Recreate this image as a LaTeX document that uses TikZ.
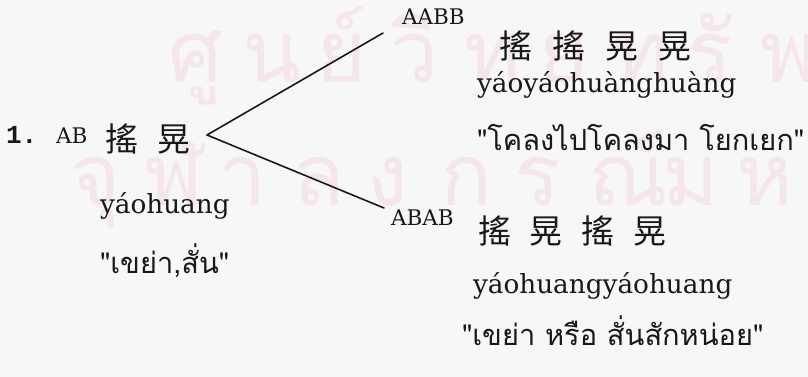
\documentclass[tikz,border=0pt]{standalone}
\usepackage{fontspec}
\setmainfont{DejaVu Serif}
\newfontfamily\thaifont[Script=Thai]{Loma}
\newfontfamily\cjkfont{Noto Sans CJK TC}
\newfontfamily\typefont{Liberation Mono}
\definecolor{paper}{RGB}{247,247,245}
\definecolor{ink}{RGB}{24,24,24}
\definecolor{wmpink}{RGB}{245,230,237}
\begin{document}
\begin{tikzpicture}[x=1pt,y=-1pt,
  every node/.style={inner sep=0pt,outer sep=0pt,anchor=base west,text=ink},
  lab/.style={font=\fontsize{21.5}{24}\selectfont},
  pin/.style={font=\fontsize{26.3}{30}\selectfont},
  han/.style={font=\cjkfont\fontsize{33}{36}\selectfont},
  thai/.style={font=\thaifont\fontsize{29}{32}\selectfont},
  num/.style={font=\typefont\bfseries\fontsize{26}{30}\selectfont},
  wm/.style={font=\thaifont\fontsize{86}{90}\selectfont,text=wmpink},
  branch/.style={draw=ink,line width=1.6pt,line cap=round}]
\useasboundingbox (0,0) rectangle (808,377);
\fill[paper] (0,0) rectangle (808,377);
\begin{scope}
\clip (0,0) rectangle (808,377);
\foreach \g [count=\i] in {ศู,น,ย์,วิ,ท,ย,ท,รั,พ,ย}
  \node[wm] (wma\i) at ({168+74*(\i-1)},83) {\g};
\foreach \g [count=\i] in {จุ,ฬ,า,ล,ง,ก,ร,ณ์,ม,ห,า}
  \node[wm] (wmb\i) at ({70+74*(\i-1)},205) {\g};
\end{scope}
% left entry
\node[num] (n1) at (6,143) {1.};
\node[lab] (ab) at (56,143) {AB};
\node[han] (abhan) at (105,151) {搖\hspace{20pt}晃};
\node[pin] (abpin) at (100,213) {yáohuang};
\node[thai] (abthai) at (100,273) {"เขย่า,สั่น"};
% branches
\coordinate (v) at (207,135);
\coordinate (up) at (383,33);
\coordinate (dn) at (384,208);
\draw[branch] (v) -- (up);
\draw[branch] (v) -- (dn);
% AABB
\node[lab] (aabb) at (402,25) {AABB};
\node[han] (aabbhan) at (499,59) {搖\hspace{20pt}搖\hspace{20pt}晃\hspace{20pt}晃};
\node[pin] (aabbpin) at (477,93) {yáoyáohuànghuàng};
\node[thai] (aabbthai) at (477,150) {"โคลงไปโคลงมา โยกเยก"};
% ABAB
\node[lab] (abab) at (391,225) {ABAB};
\node[han] (ababhan) at (478,243) {搖\hspace{19pt}晃\hspace{19pt}搖\hspace{19pt}晃};
\node[pin] (ababpin) at (473,293) {yáohuangyáohuang};
\node[thai] (ababthai) at (462,345) {"เขย่า หรือ สั่นสักหน่อย"};
\end{tikzpicture}
\end{document}
